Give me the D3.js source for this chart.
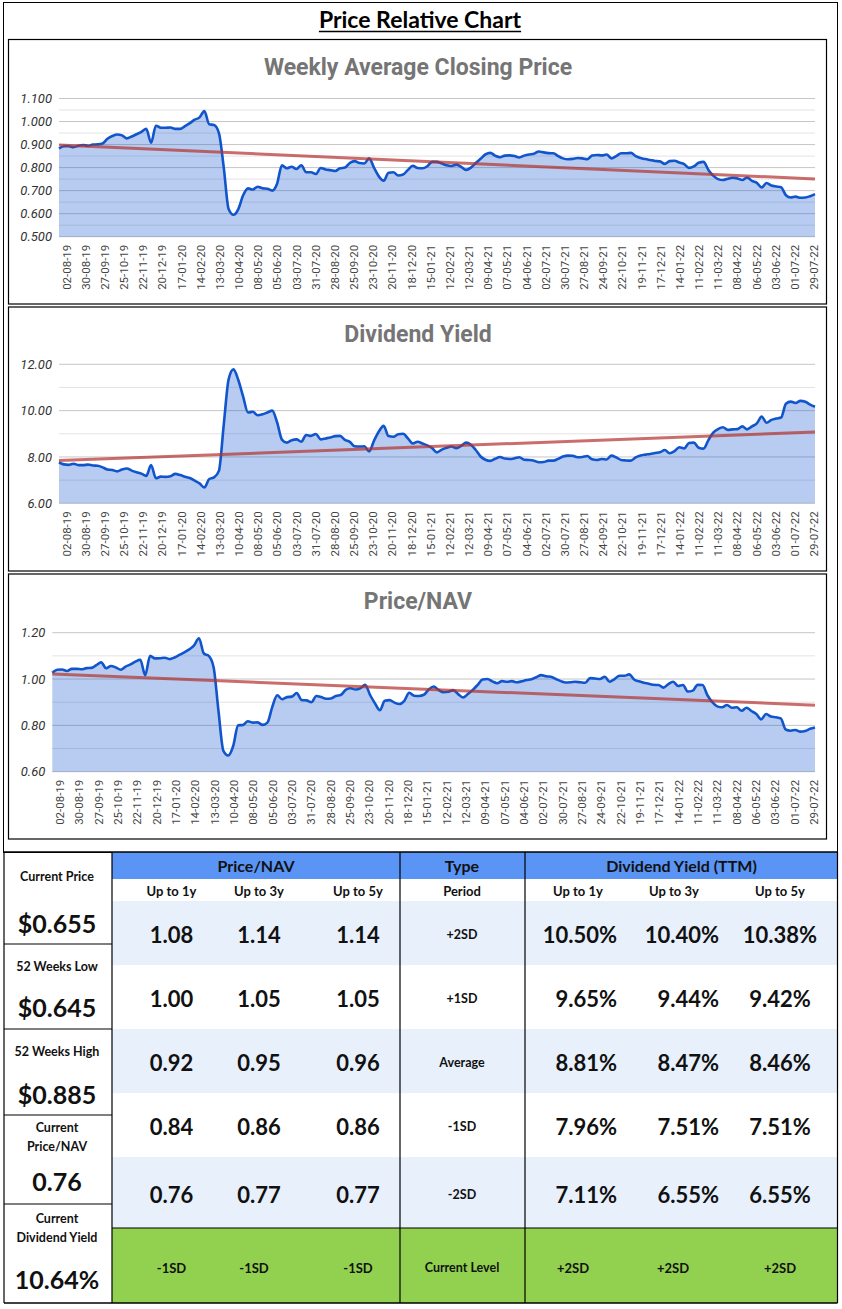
<!DOCTYPE html>
<html>
<head>
<meta charset="utf-8">
<script src="https://cdn.jsdelivr.net/npm/d3@7"></script>
<style>
  body { margin: 0; background: #fff; }
  svg { display: block; font-family: Lato, "Open Sans", sans-serif; }
</style>
</head>
<body>
<div id="chart"></div>
<script>
//page size
var width = 842;
var height = 1309;

//x axis labels (one every 4 weeks)
var tickLabels = ["02-08-19","30-08-19","27-09-19","25-10-19","22-11-19","20-12-19","17-01-20","14-02-20",
  "13-03-20","10-04-20","08-05-20","05-06-20","03-07-20","31-07-20","28-08-20","25-09-20","23-10-20",
  "20-11-20","18-12-20","15-01-21","12-02-21","12-03-21","09-04-21","07-05-21","04-06-21","02-07-21",
  "30-07-21","27-08-21","24-09-21","22-10-21","19-11-21","17-12-21","14-01-22","11-02-22","11-03-22",
  "08-04-22","06-05-22","03-06-22","01-07-22","29-07-22"];

//weekly average closing price
var priceValues = [
  0.883,0.893,0.893,0.889,0.895,0.898,0.895,0.900,0.901,0.905,
  0.925,0.937,0.944,0.940,0.927,0.935,0.945,0.955,0.968,0.908,
  0.982,0.973,0.973,0.974,0.968,0.968,0.980,0.993,1.008,1.018,
  1.045,0.988,0.985,0.950,0.800,0.620,0.595,0.620,0.680,0.710,
  0.705,0.717,0.710,0.708,0.700,0.730,0.810,0.797,0.804,0.794,
  0.810,0.780,0.780,0.772,0.798,0.792,0.789,0.785,0.797,0.800,
  0.820,0.828,0.820,0.818,0.840,0.800,0.762,0.743,0.778,0.780,
  0.766,0.770,0.790,0.808,0.798,0.797,0.806,0.825,0.825,0.818,
  0.810,0.807,0.813,0.803,0.790,0.800,0.820,0.838,0.857,0.864,
  0.852,0.845,0.852,0.853,0.850,0.844,0.852,0.857,0.860,0.870,
  0.866,0.863,0.862,0.850,0.840,0.836,0.838,0.842,0.840,0.836,
  0.852,0.855,0.853,0.857,0.840,0.850,0.862,0.862,0.864,0.850,
  0.842,0.837,0.833,0.829,0.827,0.816,0.828,0.830,0.822,0.815,
  0.799,0.805,0.821,0.825,0.790,0.765,0.750,0.746,0.752,0.756,
  0.753,0.746,0.757,0.742,0.734,0.714,0.733,0.722,0.718,0.715,
  0.680,0.670,0.674,0.669,0.670,0.676,0.685];

//dividend yield (%)
var yieldValues = [
  7.77,7.68,7.66,7.71,7.65,7.65,7.67,7.63,7.62,7.55,
  7.46,7.44,7.38,7.46,7.50,7.41,7.34,7.28,7.18,7.65,
  7.08,7.15,7.14,7.17,7.27,7.22,7.15,7.09,6.98,6.86,
  6.68,7.05,7.12,7.40,9.40,11.35,11.78,11.32,10.60,9.92,
  9.95,9.80,9.84,9.92,10.00,9.50,8.75,8.62,8.72,8.76,
  8.66,8.95,8.91,8.99,8.76,8.80,8.84,8.90,8.91,8.74,
  8.65,8.46,8.45,8.46,8.24,8.70,9.10,9.34,8.90,8.87,
  8.98,9.00,8.80,8.58,8.66,8.58,8.50,8.38,8.20,8.32,
  8.40,8.45,8.38,8.48,8.62,8.53,8.30,8.02,7.88,7.83,
  7.92,8.00,7.93,7.91,7.94,7.99,7.88,7.87,7.84,7.77,
  7.78,7.84,7.84,7.92,8.02,8.06,8.05,7.99,8.00,8.04,
  7.90,7.87,7.91,7.89,8.06,7.98,7.87,7.85,7.84,7.98,
  8.06,8.10,8.13,8.17,8.20,8.30,8.16,8.25,8.42,8.37,
  8.60,8.62,8.40,8.36,8.73,9.05,9.20,9.28,9.17,9.19,
  9.20,9.32,9.19,9.32,9.45,9.74,9.48,9.60,9.66,9.70,
  10.30,10.39,10.33,10.42,10.38,10.26,10.17];

//price / NAV
var navValues = [
  1.027,1.040,1.041,1.035,1.044,1.044,1.042,1.047,1.048,1.060,
  1.072,1.047,1.056,1.050,1.040,1.054,1.063,1.075,1.083,1.017,
  1.100,1.089,1.090,1.092,1.086,1.093,1.104,1.115,1.128,1.145,
  1.176,1.110,1.100,1.050,0.860,0.690,0.670,0.711,0.800,0.802,
  0.818,0.812,0.813,0.802,0.812,0.880,0.930,0.913,0.922,0.924,
  0.940,0.909,0.908,0.900,0.927,0.922,0.915,0.916,0.927,0.931,
  0.953,0.960,0.955,0.960,0.975,0.931,0.895,0.865,0.906,0.909,
  0.898,0.892,0.906,0.941,0.928,0.927,0.932,0.955,0.968,0.953,
  0.943,0.945,0.952,0.935,0.920,0.935,0.953,0.975,0.998,1.000,
  0.990,0.982,0.991,0.988,0.991,0.986,0.990,0.996,0.999,1.008,
  1.017,1.012,1.010,1.000,0.991,0.985,0.986,0.988,0.986,0.984,
  1.004,1.002,1.000,1.010,0.988,1.000,1.014,1.014,1.020,0.998,
  0.990,0.984,0.980,0.975,0.974,0.963,0.978,0.988,0.970,0.974,
  0.946,0.950,0.975,0.974,0.930,0.900,0.882,0.878,0.888,0.876,
  0.878,0.863,0.876,0.862,0.849,0.826,0.849,0.838,0.835,0.830,
  0.782,0.777,0.780,0.773,0.776,0.785,0.791];

//table data
var periods = ["Up to 1y", "Up to 3y", "Up to 5y"];
var sdLabels = ["+2SD", "+1SD", "Average", "-1SD", "-2SD"];
var navBands = [[1.08,1.14,1.14],[1.00,1.05,1.05],[0.92,0.95,0.96],[0.84,0.86,0.86],[0.76,0.77,0.77]];
var yieldBands = [[10.50,10.40,10.38],[9.65,9.44,9.42],[8.81,8.47,8.46],[7.96,7.51,7.51],[7.11,6.55,6.55]];
var navLevel = ["-1SD", "-1SD", "-1SD"];
var yieldLevel = ["+2SD", "+2SD", "+2SD"];
var summaryLabels = [["Current Price"], ["52 Weeks Low"], ["52 Weeks High"], ["Current", "Price/NAV"], ["Current", "Dividend Yield"]];
var summaryValues = ["$0.655", "$0.645", "$0.885", "0.76", "10.64%"];

var svg = d3.select("#chart").append("svg")
    .attr("width", width)
    .attr("height", height);

//outer frame + title
svg.append("rect")
    .attr("x", 3.5).attr("y", 2.5)
    .attr("width", 834).attr("height", 850)
    .attr("fill", "none").attr("stroke", "#000");

var title = svg.append("text")
    .attr("x", 420).attr("y", 28)
    .attr("text-anchor", "middle")
    .style("font-weight", "bold")
    .style("font-size", "23px")
    .text("Price Relative Chart");
var titleW = title.node().getComputedTextLength();
svg.append("line")
    .attr("x1", 420 - titleW / 2).attr("x2", 420 + titleW / 2)
    .attr("y1", 31.5).attr("y2", 31.5)
    .attr("stroke", "#000").attr("stroke-width", 1.6);

//chart layouts
var charts = [
  { title: "Weekly Average Closing Price", values: priceValues, domain: [0.5, 1.1], grid: 0.05, label: 0.1,
    fmt: d3.format(".3f"), boxTop: 39.5, boxBottom: 304, left: 59, top: 98.5, bottom: 236.7 },
  { title: "Dividend Yield", values: yieldValues, domain: [6, 12], grid: 1, label: 2,
    fmt: d3.format(".2f"), boxTop: 307, boxBottom: 571, left: 59, top: 364.3, bottom: 503.3 },
  { title: "Price/NAV", values: navValues, domain: [0.6, 1.2], grid: 0.1, label: 0.2,
    fmt: d3.format(".2f"), boxTop: 574, boxBottom: 839, left: 52.3, top: 632.7, bottom: 771.7 }
];
var plotRight = 815;

charts.forEach(function(c) { drawChart(c); });

function drawChart(c) {
  var g = svg.append("g");

  g.append("rect")
      .attr("x", 8.5).attr("y", c.boxTop)
      .attr("width", 818).attr("height", c.boxBottom - c.boxTop)
      .attr("fill", "#fff").attr("stroke", "#000").attr("stroke-width", 1.2);

  g.append("text")
      .attr("x", 418).attr("y", c.boxTop + 35)
      .attr("text-anchor", "middle")
      .style("font-family", "Roboto, sans-serif")
      .style("font-weight", "bold")
      .style("font-size", "23px")
      .style("fill", "#757575")
      .text(c.title);

  var n = c.values.length;
  var x = d3.scaleLinear().domain([0, n - 1]).range([c.left, plotRight]);
  var y = d3.scaleLinear().domain(c.domain).range([c.bottom, c.top]);

  //grid lines, major ones carry a label
  var steps = Math.round((c.domain[1] - c.domain[0]) / c.grid);
  var ratio = Math.round(c.label / c.grid);
  var gridVals = d3.range(steps + 1).map(function(i) { return c.domain[0] + i * c.grid; });
  g.selectAll(".grid")
      .data(gridVals)
      .enter()
      .append("line")
        .attr("x1", c.left).attr("x2", plotRight)
        .attr("y1", function(d) { return y(d); })
        .attr("y2", function(d) { return y(d); })
        .attr("stroke", function(d, i) { return i % ratio === 0 ? "#c6c6c6" : "#e3e3e3"; })
        .attr("stroke-width", 1);

  var labelVals = gridVals.filter(function(d, i) { return i % ratio === 0; });
  var yAxis = g.append("g")
      .attr("transform", "translate(" + c.left + ",0)")
      .call(d3.axisLeft(y).tickValues(labelVals).tickSize(0).tickPadding(7).tickFormat(c.fmt));
  yAxis.select(".domain").remove();
  yAxis.selectAll("text")
      .style("font-family", "Roboto, sans-serif")
      .style("font-style", "italic")
      .style("font-size", "13px")
      .style("fill", "#333");

  //area + line
  var area = d3.area()
      .x(function(d, i) { return x(i); })
      .y0(y(c.domain[0]))
      .y1(function(d) { return y(d); })
      .curve(d3.curveMonotoneX);
  var line = d3.line()
      .x(function(d, i) { return x(i); })
      .y(function(d) { return y(d); })
      .curve(d3.curveMonotoneX);

  g.append("path")
      .datum(c.values)
      .attr("d", area)
      .attr("fill", "#1155cc")
      .attr("fill-opacity", 0.3);
  g.append("path")
      .datum(c.values)
      .attr("d", line)
      .attr("fill", "none")
      .attr("stroke", "#1155cc")
      .attr("stroke-width", 2.6)
      .attr("stroke-linejoin", "round");

  //linear trend line (least squares)
  var mx = d3.mean(c.values, function(d, i) { return i; });
  var my = d3.mean(c.values);
  var sxy = d3.sum(c.values, function(d, i) { return (i - mx) * (d - my); });
  var sxx = d3.sum(c.values, function(d, i) { return (i - mx) * (i - mx); });
  var slope = sxy / sxx;
  var trend = [0, n - 1].map(function(i) { return [i, my + slope * (i - mx)]; });
  g.append("line")
      .attr("x1", x(trend[0][0])).attr("y1", y(trend[0][1]))
      .attr("x2", x(trend[1][0])).attr("y2", y(trend[1][1]))
      .attr("stroke", "#b3302c")
      .attr("stroke-opacity", 0.7)
      .attr("stroke-width", 3);

  //rotated date labels
  var labelX = d3.scalePoint().domain(tickLabels).range([c.left + 7.5, plotRight - 1]);
  g.selectAll(".xl")
      .data(tickLabels)
      .enter()
      .append("text")
        .attr("transform", function(d) {
          return "translate(" + labelX(d) + "," + (c.bottom + 8) + ") rotate(-90)";
        })
        .attr("text-anchor", "end")
        .attr("dy", "0.35em")
        .style("font-family", "Roboto, sans-serif")
        .style("font-size", "11.5px")
        .style("fill", "#444")
        .text(function(d) { return d; });
}

//---------------- table ----------------
var tTop = 852, tBottom = 1303;
var rowEdges = [901, 965, 1029, 1093, 1157, 1228];
var greenTop = 1228;
var navX = [171.5, 259, 358];
var typeX = 462;
var yieldX = [617, 719, 780];
var yieldAnchor = ["end", "end", "middle"];
var yieldHeadX = [578, 674, 780];
var yieldLevelX = [573, 673, 780];
var table = svg.append("g");

//header band
table.append("rect")
    .attr("x", 112).attr("y", tTop)
    .attr("width", 726).attr("height", 27)
    .attr("fill", "#5a94f5");

//row backgrounds
table.selectAll(".rowbg")
    .data(sdLabels)
    .enter()
    .append("rect")
      .attr("x", 112)
      .attr("y", function(d, i) { return rowEdges[i]; })
      .attr("width", 726)
      .attr("height", function(d, i) { return rowEdges[i + 1] - rowEdges[i]; })
      .attr("fill", function(d, i) { return i % 2 === 0 ? "#e8f0fc" : "#fff"; });

table.append("rect")
    .attr("x", 112).attr("y", greenTop)
    .attr("width", 726).attr("height", tBottom - greenTop)
    .attr("fill", "#92d050");

function cellText(x, y, txt, size, anchor) {
  table.append("text")
      .attr("x", x).attr("y", y)
      .attr("dy", "0.35em")
      .attr("text-anchor", anchor || "middle")
      .style("font-weight", "bold")
      .style("font-size", size + "px")
      .style("fill", "#111")
      .text(txt);
}

//headers
cellText(256, 866, "Price/NAV", 16);
cellText(typeX, 866, "Type", 16);
cellText(681.5, 866, "Dividend Yield (TTM)", 16);
periods.forEach(function(p, j) {
  cellText(navX[j], 891, p, 13);
  cellText(yieldHeadX[j], 891, p, 13);
});
cellText(typeX, 891, "Period", 13);

//band values
sdLabels.forEach(function(s, i) {
  var cy = (rowEdges[i] + rowEdges[i + 1]) / 2 + 2;
  cellText(typeX, cy, s, 12.5);
  navBands[i].forEach(function(v, j) {
    cellText(navX[j], cy + 0.5, d3.format(".2f")(v), 22);
  });
  yieldBands[i].forEach(function(v, j) {
    cellText(yieldX[j], cy + 0.5, d3.format(".2f")(v) + "%", 22, yieldAnchor[j]);
  });
});

//current level row
var levelY = (greenTop + tBottom) / 2 + 2.5;
navLevel.forEach(function(v, j) { cellText(navX[j] + (j === 1 ? -5 : 0), levelY, v, 13); });
cellText(typeX, levelY, "Current Level", 12.5);
yieldLevel.forEach(function(v, j) { cellText(yieldLevelX[j], levelY, v, 13); });

//summary column
var summaryCells = [
  { top: 852, bottom: 944, lines: [877], value: 924 },
  { top: 944, bottom: 1029, lines: [967], value: 1008 },
  { top: 1029, bottom: 1115, lines: [1052], value: 1095 },
  { top: 1115, bottom: 1204, lines: [1128, 1147], value: 1182 },
  { top: 1204, bottom: 1303, lines: [1219, 1238], value: 1280 }
];
summaryCells.forEach(function(cell, i) {
  summaryLabels[i].forEach(function(t, k) { cellText(57, cell.lines[k], t, 12.5); });
  cellText(57, cell.value, summaryValues[i], 25);
  if (i > 0) {
    table.append("line")
        .attr("x1", 4).attr("x2", 112)
        .attr("y1", cell.top).attr("y2", cell.top)
        .attr("stroke", "#000").attr("stroke-width", 1.2);
  }
});

//table grid lines
[4, 112, 400, 525, 837.5].forEach(function(xv) {
  table.append("line")
      .attr("x1", xv).attr("x2", xv)
      .attr("y1", tTop).attr("y2", tBottom)
      .attr("stroke", "#000").attr("stroke-width", 1.2);
});
[tTop, tBottom].forEach(function(yv) {
  table.append("line")
      .attr("x1", 4).attr("x2", 837.5)
      .attr("y1", yv).attr("y2", yv)
      .attr("stroke", "#000").attr("stroke-width", 1.4);
});
table.append("line")
    .attr("x1", 112).attr("x2", 837.5)
    .attr("y1", greenTop).attr("y2", greenTop)
    .attr("stroke", "#000").attr("stroke-width", 1.2);
</script>
</body>
</html>
